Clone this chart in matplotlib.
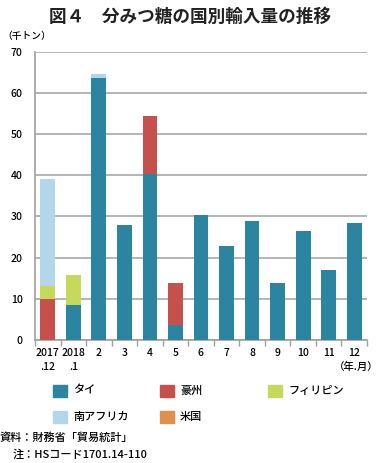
import matplotlib
matplotlib.use("Agg")
import matplotlib.pyplot as plt
from matplotlib.patches import Rectangle
import numpy as np

plt.rcParams['font.family'] = ['Noto Sans CJK JP', 'DejaVu Sans']
plt.rcParams['font.weight'] = 'medium'

categories = ["2017\n.12", "2018\n.1", "2", "3", "4", "5", "6", "7", "8", "9", "10", "11", "12"]
thai       = [0, 8.4, 63.7, 27.8, 40.3, 3.6, 30.4, 22.9, 29.0, 13.9, 26.4, 17.0, 28.3]
australia  = [10.0, 0, 0, 0, 14.1, 10.1, 0, 0, 0, 0, 0, 0, 0]
philippines= [3.0, 7.4, 0, 0, 0, 0, 0, 0, 0, 0, 0, 0, 0]
s_africa   = [26.1, 0, 1.0, 0, 0, 0, 0, 0, 0, 0, 0, 0, 0]
usa        = [0, 0, 0, 0, 0, 0, 0, 0, 0, 0, 0, 0, 0]
series_names = ["タイ", "豪州", "フィリピン", "南アフリカ", "米国"]
yticks = [0, 10, 20, 30, 40, 50, 60, 70]

colors = ["#2b84a0", "#c5504c", "#c6d95c", "#b4d6ea", "#e0904a"]

W, H = 381, 463
fig = plt.figure(figsize=(W/100, H/100), dpi=100)
ax = fig.add_axes([35/W, 1-339.7/H, (367-35)/W, (339.7-52)/H])

x = np.arange(len(categories))
bottom = np.zeros(len(categories))
data = [thai, australia, philippines, s_africa, usa]
for vals, c, name in zip(data, colors, series_names):
    v = np.array(vals, dtype=float)
    ax.bar(x, v, bottom=bottom, width=0.58, color=c, label=name, zorder=3)
    bottom += v

ax.set_xlim(-0.5, len(categories)-0.5)
ax.set_ylim(0, 70)
ax.set_yticks(yticks)
ax.set_yticklabels([str(t) for t in yticks], fontsize=7.5)
ax.tick_params(axis='y', length=0, pad=9)
ax.yaxis.grid(True, color="#a8a8a8", linewidth=1.2, zorder=0)
ax.set_axisbelow(True)

ax.set_xticks(x)
ax.set_xticklabels(categories, fontsize=7.5, linespacing=1.5, va='top')
ax.tick_params(axis='x', length=0, pad=6)
ax.set_xticks(np.arange(-0.5, len(categories)), minor=True)
ax.tick_params(axis='x', which='minor', length=4, color="#a0a0a0", width=1)

for s in ['top', 'right']:
    ax.spines[s].set_visible(False)
for s in ['left', 'bottom']:
    ax.spines[s].set_color("#a0a0a0")
    ax.spines[s].set_linewidth(1.2)

fig.text(190/W, 1-17/H, "図４　分みつ糖の国別輸入量の推移", ha='center', va='center',
         fontsize=12.7, fontweight='bold', color="#222222")
fig.text(2/W, 1-36/H, "（千トン）", ha='left', va='center', fontsize=7)
fig.text(356/W, 1-367/H, "（年.月）", ha='center', va='center', fontsize=7.5)

# legend
legend_pos = [(53, 391), (160, 391), (268, 391), (53, 417), (160, 417)]
for (px, py), c, name in zip(legend_pos, colors, series_names):
    fig.patches.append(Rectangle((px/W, 1-(py+6)/H), 14/W, 12/H, transform=fig.transFigure,
                                 color=c, figure=fig))
    fig.text((px+20)/W, 1-py/H, name, ha='left', va='center', fontsize=8)

fig.text(0/W, 1-438/H, "資料：財務省「貿易統計」", ha='left', va='center', fontsize=8)
fig.text(13/W, 1-454/H, "注：HSコード1701.14-110", ha='left', va='center', fontsize=8)

fig.savefig("out.png", dpi=100)
